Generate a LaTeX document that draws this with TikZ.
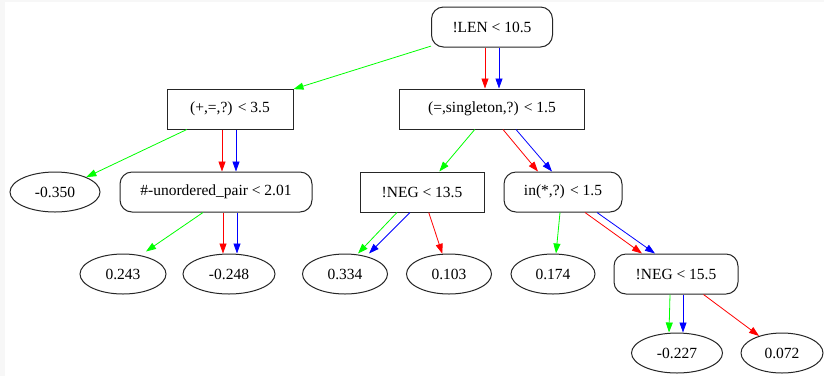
\documentclass[tikz,border=0pt]{standalone}
\usepackage{fontspec}
\setmainfont{Liberation Serif}
\usepackage{tikz}
\usetikzlibrary{
  shapes.geometric,
  arrows.meta,
  positioning
}
\definecolor{yescol}{RGB}{0,255,0}
\definecolor{nocol}{RGB}{255,0,0}
\definecolor{misscol}{RGB}{0,0,255}
\tikzset{
  x=1pt, y=-1pt,
  >={Triangle[length=10pt,width=7pt]},
  every node/.style={font=\fontsize{15.5}{17}\selectfont, inner sep=0pt, minimum height=40pt},
  cond/.style={draw=black!85, line width=1pt},
  test/.style={cond, rectangle},
  split/.style={cond, rectangle, rounded corners=12pt},
  leaf/.style={cond, ellipse},
  yes/.style={->, draw=yescol, line width=0.8pt},
  no/.style={->, draw=nocol, line width=0.8pt},
  miss/.style={->, draw=misscol, line width=0.8pt}
}
\begin{document}
\begin{tikzpicture}
    \useasboundingbox (0,0) rectangle (824,376);
    \fill[black!3] (0,0) rectangle (824,376);
    \fill[white] (5,2) rectangle (824,376);
    % tests
    \node[split, minimum width=121pt] (n0) at (492,27) {!LEN < 10.5};
    \node[test, minimum width=126pt] (n1) at (230,109) {(+,=,?) < 3.5};
    \node[test, minimum width=185pt] (n2) at (492,109) {(=,singleton,?) < 1.5};
    \node[split, minimum width=192pt] (n4) at (216,192) {\#-unordered\_pair < 2.01};
    \node[test, minimum width=124pt] (n7) at (422,192) {!NEG < 13.5};
    \node[split, minimum width=118pt] (n8) at (563,192) {in(*,?) < 1.5};
    \node[split, minimum width=124pt] (n12) at (676,274) {!NEG < 15.5};
    % leaves
    \node[leaf, minimum width=90pt] (n3) at (55,192) {-0.350};
    \node[leaf, minimum width=86pt] (n5) at (123,274) {0.243};
    \node[leaf, minimum width=92pt] (n6) at (229,274) {-0.248};
    \node[leaf, minimum width=85pt] (n9) at (345,274) {0.334};
    \node[leaf, minimum width=85pt] (n10) at (449,274) {0.103};
    \node[leaf, minimum width=84pt] (n11) at (553,274) {0.174};
    \node[leaf, minimum width=91pt] (n13) at (677,353) {-0.227};
    \node[leaf, minimum width=82pt] (n14) at (782,353) {0.072};
    % edges
    \draw[yes] (n0) -- (n1);
    \draw[no] ([xshift=-7pt]n0.south) -- ([xshift=-7pt]n2.north);
    \draw[miss] ([xshift=7pt]n0.south) -- ([xshift=7pt]n2.north);
    \draw[yes] (n1) -- (n3);
    \draw[no] ([xshift=-8pt]n1.south) -- ([xshift=-8pt]n1.south |- n4.north);
    \draw[miss] ([xshift=6pt]n1.south) -- ([xshift=6pt]n1.south |- n4.north);
    \draw[yes] ([xshift=-13pt]n4.south) -- ([xshift=23pt,yshift=2pt]n5.north);
    \draw[no] ([xshift=-6pt]n6.north |- n4.south) -- ([xshift=-6pt]n6.north);
    \draw[miss] ([xshift=8pt]n6.north |- n4.south) -- ([xshift=8pt]n6.north);
    \draw[yes] (n2) -- (n7);
    \draw[no] ([xshift=11pt]n2.south) -- ([xshift=-25pt]n8.north);
    \draw[miss] ([xshift=24pt]n2.south) -- ([xshift=-11pt]n8.north);
    \draw[yes] ([xshift=-25pt]n7.south) -- ([xshift=13pt]n9.north);
    \draw[miss] ([xshift=-12pt]n7.south) -- ([xshift=24pt]n9.north);
    \draw[no] (n7) -- (n10);
    \draw[yes] ([xshift=-3pt]n8.south) -- ([xshift=3pt]n11.north);
    \draw[no] ([xshift=22pt]n8.south) -- ([xshift=-34pt]n12.north);
    \draw[miss] ([xshift=34pt]n8.south) -- ([xshift=-21pt]n12.north);
    \draw[yes] ([xshift=-6pt]n12.south) -- ([xshift=-8pt]n13.north);
    \draw[miss] ([xshift=7pt]n12.south) -- ([xshift=6pt]n13.north);
    \draw[no] (n12) -- (n14);
\end{tikzpicture}
\end{document}
